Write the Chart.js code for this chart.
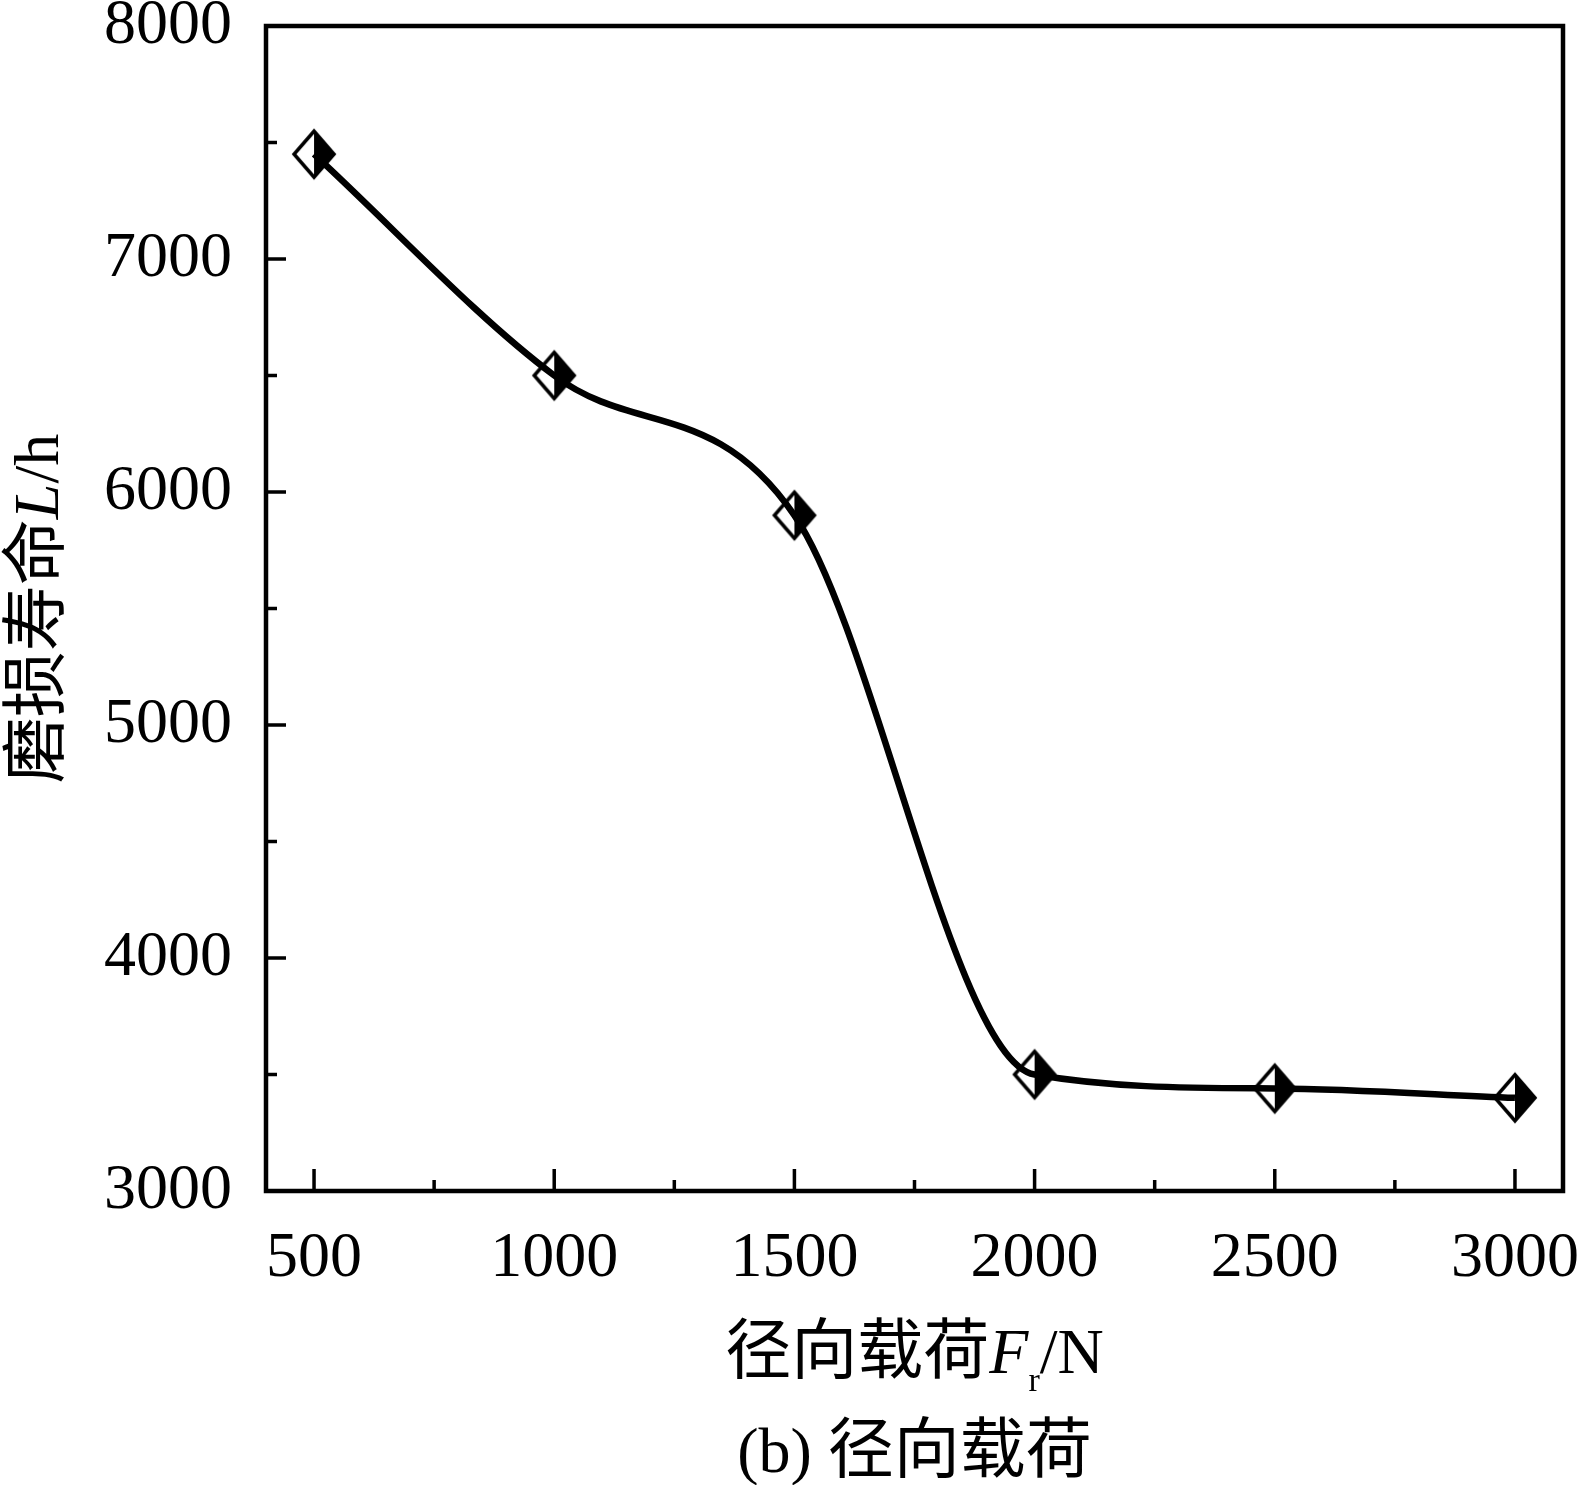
<!DOCTYPE html>
<html>
<head>
<meta charset="utf-8">
<title>磨损寿命 - 径向载荷</title>
<script src="https://cdn.jsdelivr.net/npm/chart.js"></script>
<style>
    html, body { margin: 0; padding: 0; background: #fff; overflow: hidden; }
    #wrap { width: 1578px; height: 1485px; }
</style>
</head>
<body>
<div id="wrap"><canvas id="wearChart" width="1578" height="1485"></canvas></div>
<script>
// data
var radialLoad = [500, 1000, 1500, 2000, 2500, 3000];
var wearLife = [7450, 6500, 5900, 3500, 3440, 3400];
var xTickValues = [500, 1000, 1500, 2000, 2500, 3000];
var yTickValues = [3000, 4000, 5000, 6000, 7000, 8000];

( function( window, document, undefined ) {
    "use strict";

    var SERIF = '"Liberation Serif", "Times New Roman", serif',
        CJK = '"Noto Sans CJK SC", sans-serif',
        FONT_SIZE = 64,
        CJK_SIZE = 66;

    /**
     * diamond marker, left half open, right half filled
     */
    function halfDiamond() {
        var w = 20, h = 23;
        var c = document.createElement('canvas');
        c.width = 2 * w + 10;
        c.height = 2 * h + 10;
        var ctx = c.getContext('2d'),
            cx = c.width / 2,
            cy = c.height / 2;

        ctx.fillStyle = '#000';
        ctx.beginPath();
        ctx.moveTo(cx, cy - h);
        ctx.lineTo(cx + w, cy);
        ctx.lineTo(cx, cy + h);
        ctx.closePath();
        ctx.fill();

        ctx.beginPath();
        ctx.moveTo(cx, cy - h);
        ctx.lineTo(cx + w, cy);
        ctx.lineTo(cx, cy + h);
        ctx.lineTo(cx - w, cy);
        ctx.closePath();
        ctx.lineWidth = 3.5;
        ctx.strokeStyle = '#000';
        ctx.stroke();
        return c;
    }

    /**
     * draws text made of several runs (fonts / subscript) centred on cx
     */
    function drawRich(ctx, parts, cx, baseY) {
        var total = 0;
        parts.forEach(function(p) {
            ctx.font = p.font;
            p.w = ctx.measureText(p.text).width;
            total += p.w;
        });
        var x = cx - total / 2;
        ctx.textAlign = 'left';
        ctx.textBaseline = 'alphabetic';
        parts.forEach(function(p) {
            ctx.font = p.font;
            ctx.fillText(p.text, x, baseY + (p.dy || 0));
            x += p.w;
        });
    }

    function midpoints(values) {
        var out = [];
        for (var i = 0; i < values.length - 1; i++) {
            out.push((values[i] + values[i + 1]) / 2);
        }
        return out;
    }

    // keep the plot box where it is, labels may hang over the edges
    function noPad(s) {
        s.paddingTop = 0;
        s.paddingBottom = 0;
        s.paddingLeft = 0;
        s.paddingRight = 0;
    }

    // frame, inward tick marks and axis titles
    var framePlugin = {
        id: 'frame',
        afterDraw: function(chart) {
            var ctx = chart.ctx,
                a = chart.chartArea,
                xs = chart.scales.x,
                ys = chart.scales.y;

            ctx.save();
            ctx.strokeStyle = '#000';
            ctx.fillStyle = '#000';
            ctx.lineWidth = 3.5;
            ctx.lineCap = 'butt';

            ctx.beginPath();
            xTickValues.forEach(function(v) {
                var px = xs.getPixelForValue(v);
                ctx.moveTo(px, a.bottom);
                ctx.lineTo(px, a.bottom - 22);
            });
            midpoints(xTickValues).forEach(function(v) {
                var px = xs.getPixelForValue(v);
                ctx.moveTo(px, a.bottom);
                ctx.lineTo(px, a.bottom - 11);
            });
            yTickValues.forEach(function(v) {
                var py = ys.getPixelForValue(v);
                ctx.moveTo(a.left, py);
                ctx.lineTo(a.left + 20, py);
            });
            midpoints(yTickValues).forEach(function(v) {
                var py = ys.getPixelForValue(v);
                ctx.moveTo(a.left, py);
                ctx.lineTo(a.left + 11, py);
            });
            ctx.stroke();

            ctx.lineWidth = 4.5;
            ctx.strokeRect(a.left, a.top, a.right - a.left, a.bottom - a.top);

            var cx = (a.left + a.right) / 2;
            drawRich(ctx, [
                { text: '径向载荷', font: CJK_SIZE + 'px ' + CJK },
                { text: 'F', font: 'italic ' + FONT_SIZE + 'px ' + SERIF },
                { text: 'r', font: '34px ' + SERIF, dy: 18 },
                { text: '/N', font: FONT_SIZE + 'px ' + SERIF }
            ], cx, 1373);

            drawRich(ctx, [
                { text: '(b) ', font: FONT_SIZE + 'px ' + SERIF },
                { text: '径向载荷', font: CJK_SIZE + 'px ' + CJK }
            ], cx, 1472);

            ctx.translate(58, (a.top + a.bottom) / 2);
            ctx.rotate(-Math.PI / 2);
            drawRich(ctx, [
                { text: '磨损寿命', font: CJK_SIZE + 'px ' + CJK },
                { text: 'L', font: 'italic ' + FONT_SIZE + 'px ' + SERIF },
                { text: '/h', font: FONT_SIZE + 'px ' + SERIF }
            ], 0, 0);
            ctx.restore();
        }
    };

    var points = radialLoad.map(function(x, i) {
        return { x: x, y: wearLife[i] };
    });

    var tickFont = { family: SERIF, size: FONT_SIZE };

    new Chart(document.getElementById('wearChart'), {
        type: 'line',
        data: {
            datasets: [{
                data: points,
                borderColor: '#000',
                borderWidth: 6.5,
                fill: false,
                cubicInterpolationMode: 'monotone',
                pointStyle: halfDiamond(),
                pointRadius: 20,
                pointHoverRadius: 20
            }]
        },
        options: {
            responsive: false,
            animation: false,
            layout: {
                autoPadding: false,
                padding: { top: 26, right: 15, left: 0, bottom: 0 }
            },
            plugins: {
                legend: { display: false },
                tooltip: { enabled: false }
            },
            scales: {
                x: {
                    type: 'linear',
                    min: 400,
                    max: 3100,
                    grid: { display: false, drawTicks: false },
                    border: { display: false },
                    afterBuildTicks: function(s) {
                        s.ticks = xTickValues.map(function(v) { return { value: v }; });
                    },
                    afterFit: function(s) {
                        s.height = 294;
                        noPad(s);
                    },
                    ticks: {
                        font: tickFont,
                        color: '#000',
                        padding: 30,
                        maxRotation: 0,
                        autoSkip: false,
                        callback: function(v) { return String(v); }
                    }
                },
                y: {
                    type: 'linear',
                    min: 3000,
                    max: 8000,
                    grid: { display: false, drawTicks: false },
                    border: { display: false },
                    afterBuildTicks: function(s) {
                        s.ticks = yTickValues.map(function(v) { return { value: v }; });
                    },
                    afterFit: function(s) {
                        s.width = 266;
                        noPad(s);
                    },
                    ticks: {
                        font: tickFont,
                        color: '#000',
                        padding: 34,
                        autoSkip: false,
                        callback: function(v) { return String(v); }
                    }
                }
            }
        },
        plugins: [framePlugin]
    });
} )( window, document );
</script>
</body>
</html>
